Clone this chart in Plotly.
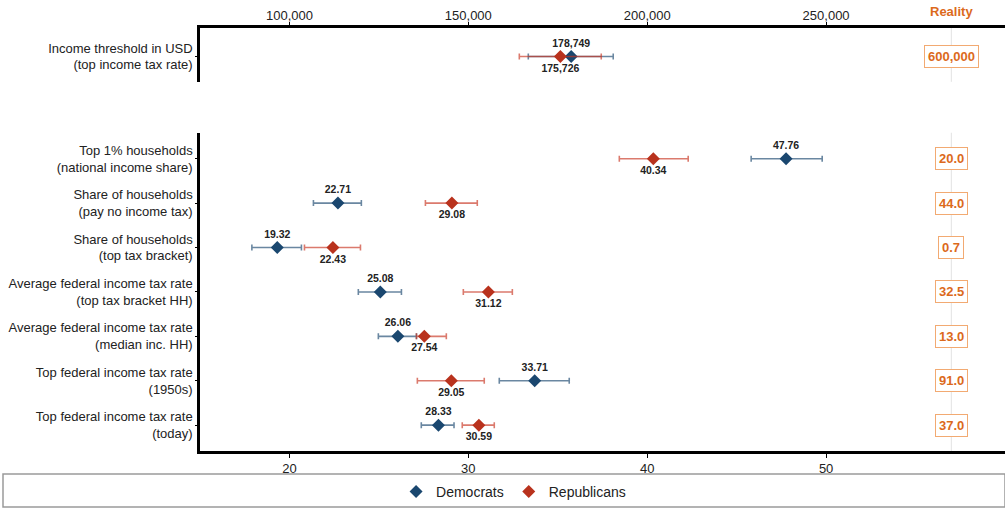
import plotly.graph_objects as go

# ---------------- data ----------------
top_category = ["Income threshold in USD<br>(top income tax rate)"]
top_dem = [178749]
top_dem_lo = [166760]
top_dem_hi = [190500]
top_rep = [175726]
top_rep_lo = [164250]
top_rep_hi = [187150]
top_reality = ["600,000"]

categories = [
    "Top 1% households<br>(national income share)",
    "Share of households<br>(pay no income tax)",
    "Share of households<br>(top tax bracket)",
    "Average federal income tax rate<br>(top tax bracket HH)",
    "Average federal income tax rate<br>(median inc. HH)",
    "Top federal income tax rate<br>(1950s)",
    "Top federal income tax rate<br>(today)",
]
dem = [47.76, 22.71, 19.32, 25.08, 26.06, 33.71, 28.33]
dem_lo = [45.81, 21.34, 17.90, 23.85, 24.97, 31.73, 27.37]
dem_hi = [49.78, 24.02, 20.67, 26.26, 27.10, 35.64, 29.20]
rep = [40.34, 29.08, 22.43, 31.12, 27.54, 29.05, 30.59]
rep_lo = [38.44, 27.60, 20.84, 29.72, 27.10, 27.15, 29.66]
rep_hi = [42.29, 30.50, 23.97, 32.46, 28.77, 30.89, 31.45]
reality = ["20.0", "44.0", "0.7", "32.5", "13.0", "91.0", "37.0"]

bottom_ticks = [20, 30, 40, 50]
top_ticks = [100000, 150000, 200000, 250000]
top_ticktext = ["100,000", "150,000", "200,000", "250,000"]

# ---------------- style ----------------
DEM = "#1a476f"
REP = "#b9321d"
DEM_ERR = "rgba(26,71,111,0.65)"
REP_ERR = "rgba(200,50,30,0.65)"
ORANGE = "#dc6a1c"
ORANGE_BORDER = "#f2aa72"
FONT = "Liberation Sans, Arial, sans-serif"
TXT = "#222222"

W, H = 1005, 508
def px_x(p):
    return p / W
def px_y(p):
    return 1 - p / H

X0 = 200
bot_range = [15, 60]
top_range = [75000, 300000]
REAL_X = 57.0
REAL_X_TOP = 285000

fig = go.Figure()

def add_pair(xd, yd, dlo, dhi, xr, yr, rlo, rhi, xa, ya, showleg, fmt):
    fig.add_trace(go.Scatter(
        x=xd, y=yd, mode="markers+text", name="Democrats",
        marker=dict(symbol="diamond", size=10, color=DEM),
        error_x=dict(type="data", symmetric=False,
                     array=[h - v for h, v in zip(dhi, xd)],
                     arrayminus=[v - l for v, l in zip(xd, dlo)],
                     color=DEM_ERR, thickness=1.6, width=3),
        text=[fmt(v) for v in xd], textposition="top center",
        textfont=dict(family=FONT, size=10.5, color=TXT, weight="bold"),
        xaxis=xa, yaxis=ya, showlegend=showleg, legendgroup="d",
        cliponaxis=False,
    ))
    fig.add_trace(go.Scatter(
        x=xr, y=yr, mode="markers+text", name="Republicans",
        marker=dict(symbol="diamond", size=10, color=REP),
        error_x=dict(type="data", symmetric=False,
                     array=[h - v for h, v in zip(rhi, xr)],
                     arrayminus=[v - l for v, l in zip(xr, rlo)],
                     color=REP_ERR, thickness=1.6, width=3),
        text=[fmt(v) for v in xr], textposition="bottom center",
        textfont=dict(family=FONT, size=10.5, color=TXT, weight="bold"),
        xaxis=xa, yaxis=ya, showlegend=showleg, legendgroup="r",
        cliponaxis=False,
    ))

add_pair(dem, categories, dem_lo, dem_hi, rep, categories, rep_lo, rep_hi,
         "x", "y", True, lambda v: f"{v:.2f}")
add_pair(top_dem, top_category, top_dem_lo, top_dem_hi, top_rep, top_category,
         top_rep_lo, top_rep_hi, "x2", "y2", False, lambda v: f"{v:,.0f}")

annotations = []
for cat, r in zip(categories, reality):
    annotations.append(dict(x=REAL_X, y=cat, xref="x", yref="y", text=f"<b>{r}</b>",
                            showarrow=False, font=dict(family=FONT, size=13, color=ORANGE),
                            bgcolor="white", bordercolor=ORANGE_BORDER, borderwidth=1,
                            borderpad=3))
annotations.append(dict(x=REAL_X_TOP, y=top_category[0], xref="x2", yref="y2",
                        text=f"<b>{top_reality[0]}</b>", showarrow=False,
                        font=dict(family=FONT, size=13, color=ORANGE),
                        bgcolor="white", bordercolor=ORANGE_BORDER, borderwidth=1,
                        borderpad=3))
annotations.append(dict(x=REAL_X_TOP, y=px_y(12), xref="x2", yref="paper",
                        yanchor="middle", text="<b>Reality</b>", showarrow=False,
                        font=dict(family=FONT, size=13, color=ORANGE)))

shapes = [
    # reality reference lines
    dict(type="line", xref="x", yref="y domain", x0=REAL_X, x1=REAL_X, y0=0, y1=1,
         line=dict(color="#e2e2e2", width=1), layer="below"),
    dict(type="line", xref="x2", yref="y2 domain", x0=REAL_X_TOP, x1=REAL_X_TOP,
         y0=0, y1=1, line=dict(color="#e2e2e2", width=1), layer="below"),
    # legend box
    dict(type="rect", xref="paper", yref="paper", x0=px_x(3), x1=1.0,
         y0=0, y1=px_y(475), line=dict(color="#9a9a9a", width=1.5),
         fillcolor="rgba(0,0,0,0)"),
]

axis_common = dict(showgrid=False, zeroline=False, showline=True, linecolor="black",
                   linewidth=2.5, ticks="outside", tickcolor="black",
                   tickfont=dict(size=13, color=TXT), automargin=False)

fig.update_layout(
    width=W, height=H,
    margin=dict(l=0, r=0, t=0, b=0),
    paper_bgcolor="white", plot_bgcolor="white",
    font=dict(family=FONT, size=13, color=TXT),
    xaxis=dict(domain=[px_x(X0), 1.0], range=bot_range, anchor="y",
               tickvals=bottom_ticks, ticklen=4, **axis_common),
    yaxis=dict(domain=[px_y(452), px_y(133)], type="category",
               categoryorder="array", categoryarray=categories,
               range=[6.584, -0.584], anchor="x", ticklen=2, **axis_common),
    xaxis2=dict(domain=[px_x(X0), 1.0], range=top_range, anchor="y2", side="top",
                tickvals=top_ticks, ticktext=top_ticktext, ticklen=3,
                ticklabelstandoff=-3, **axis_common),
    yaxis2=dict(domain=[px_y(82), px_y(28)], type="category",
                categoryorder="array", categoryarray=top_category,
                range=[0.47, -0.53], anchor="x2", ticklen=2, **axis_common),
    legend=dict(orientation="h", x=0.511, xanchor="center", y=px_y(493),
                yanchor="middle", font=dict(size=14, color=TXT),
                bgcolor="rgba(0,0,0,0)", traceorder="normal"),
    annotations=annotations,
    shapes=shapes,
    showlegend=True,
)

fig.write_html("out.html", config={"displayModeBar": False},
               post_script="document.body.style.margin='0';")
